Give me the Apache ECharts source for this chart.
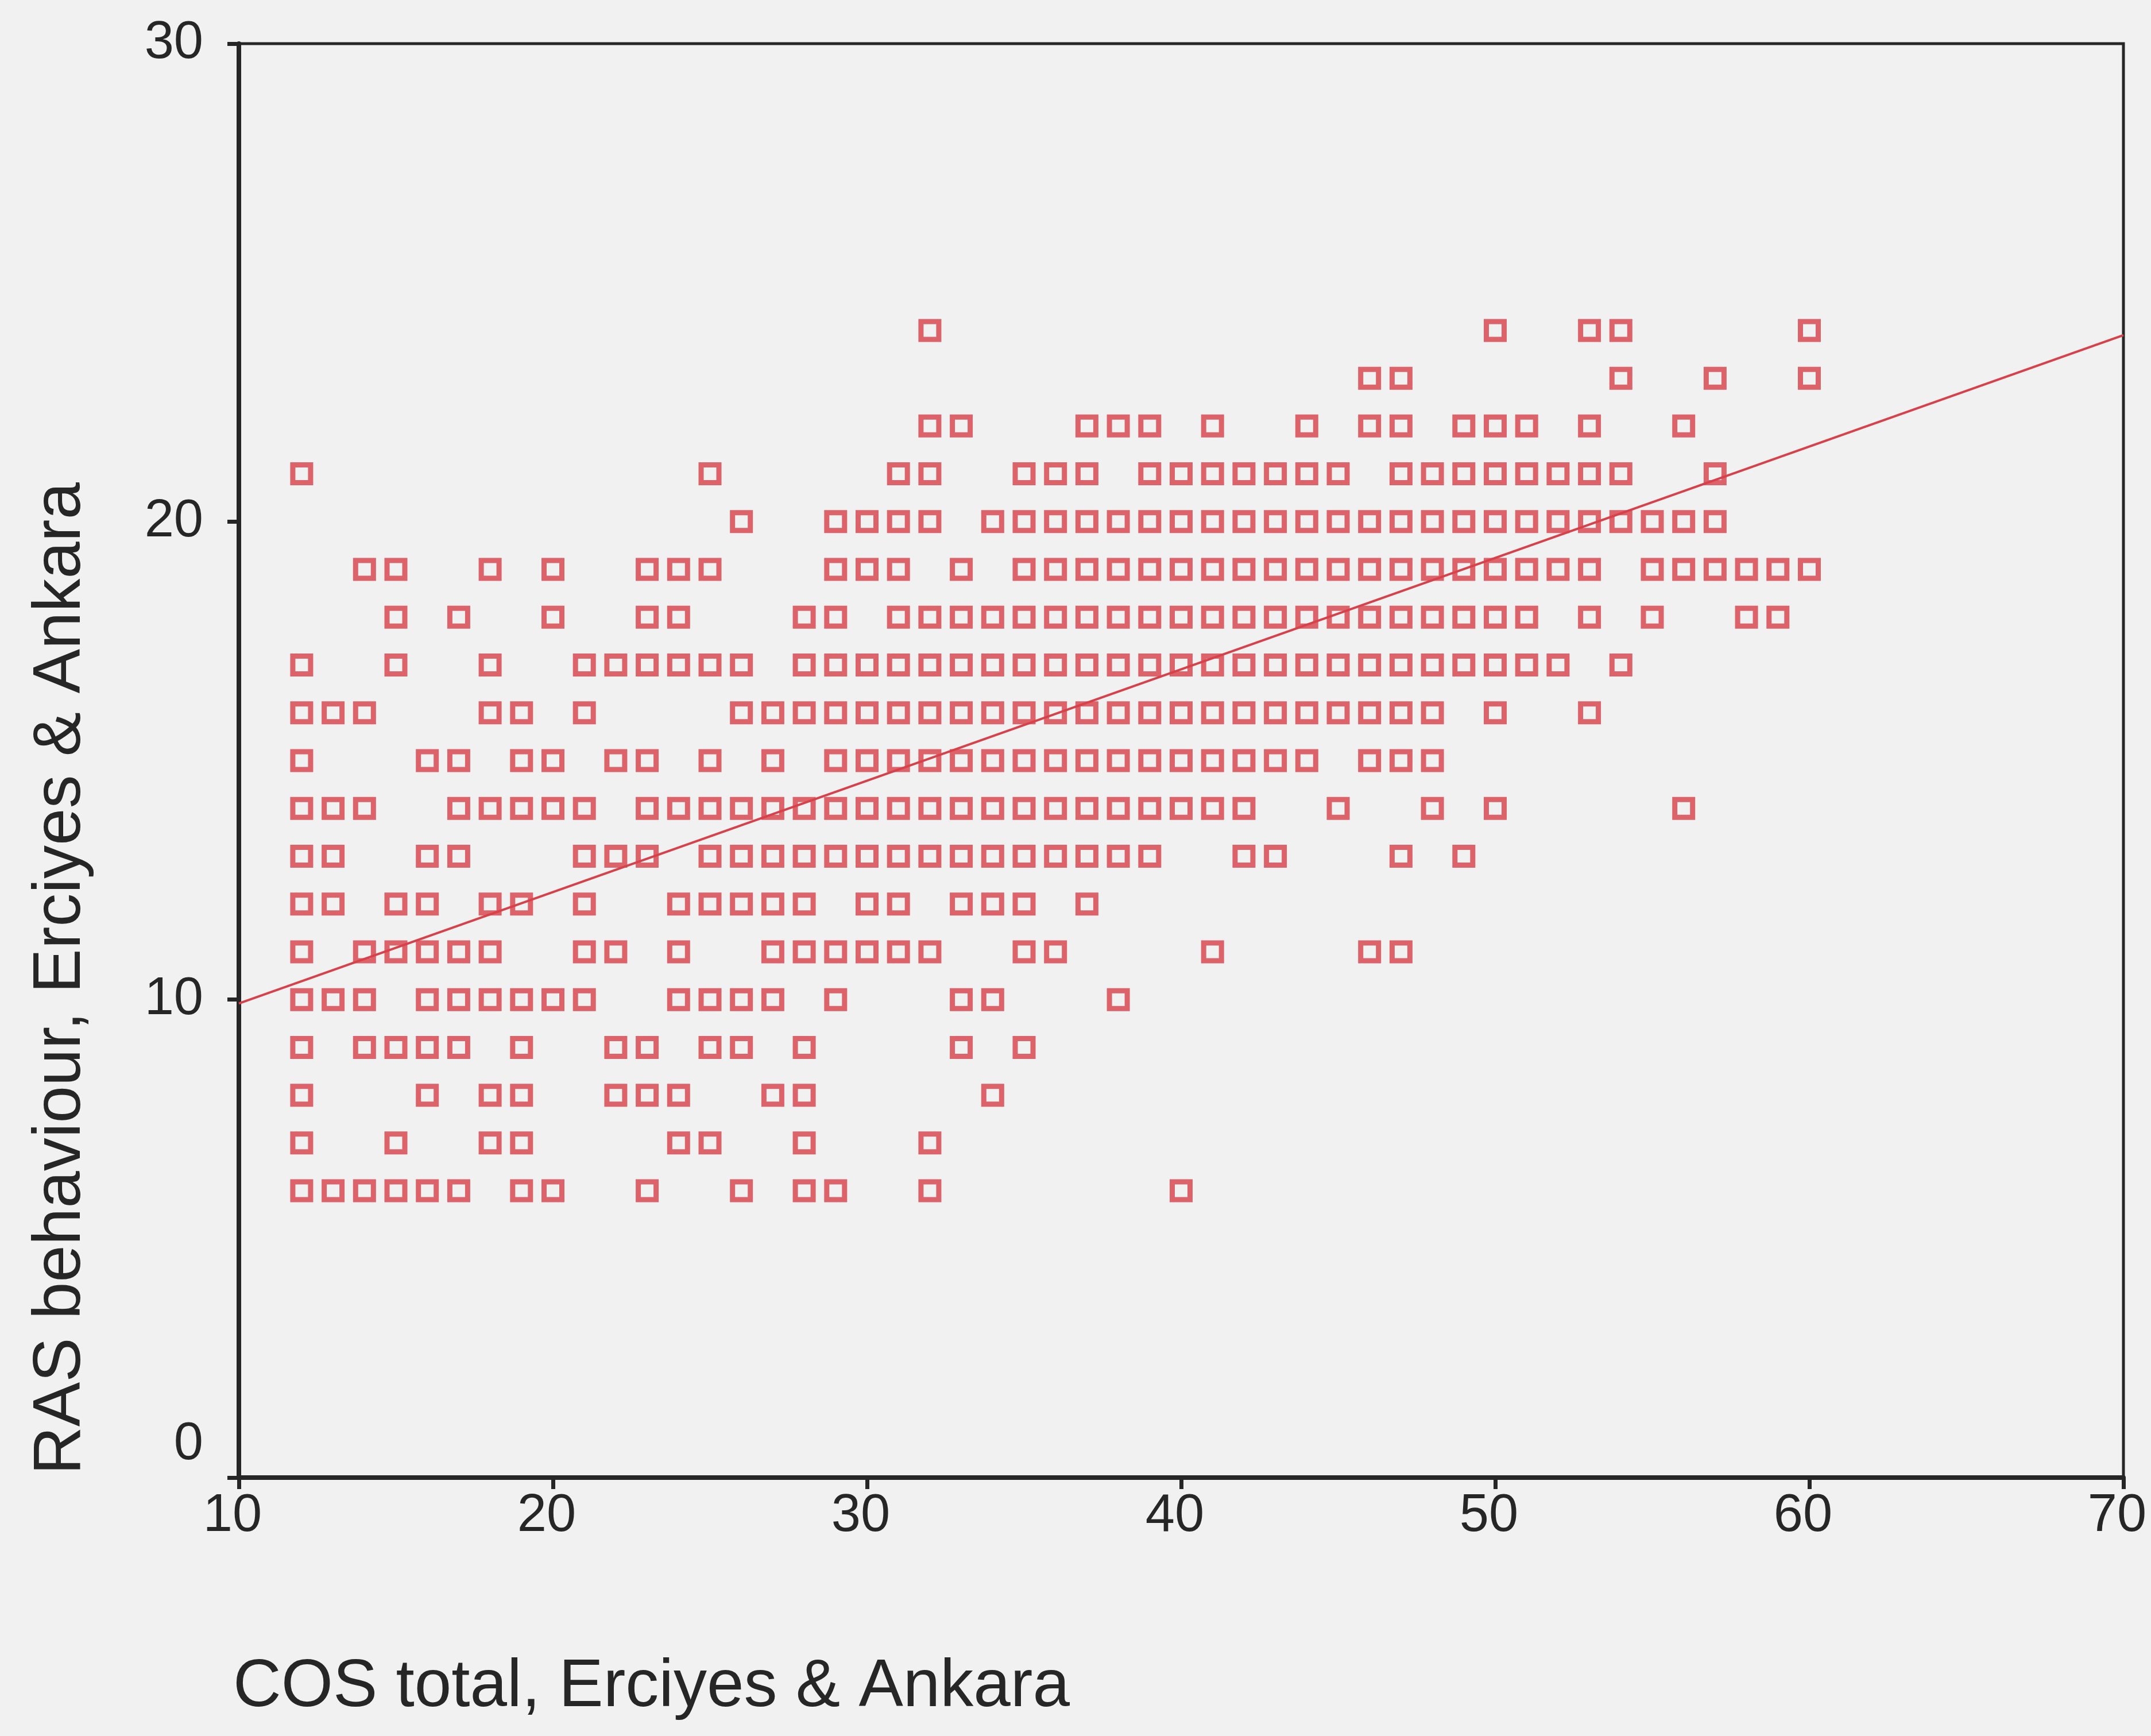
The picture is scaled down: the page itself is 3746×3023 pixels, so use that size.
<!DOCTYPE html>
<html>
<head>
<meta charset="utf-8">
<title>RAS behaviour vs COS total</title>
<script src="https://cdn.jsdelivr.net/npm/echarts@6.0.0/dist/echarts.min.js"></script>
<style>
  html, body { margin: 0; padding: 0; background: #f1f1f1; }
  #chart { width: 3746px; height: 3023px; }
</style>
</head>
<body>
<div id="chart"></div>
<script>
// COS total scores observed at each RAS behaviour score
const ras24 = [32, 50, 53, 54, 60];
const ras23 = [46, 47, 54, 57, 60];
const ras22 = [32, 33, 37, 38, 39, 41, 44, 46, 47, 49, 50, 51, 53, 56];
const ras21 = [12, 25, 31, 32, 35, 36, 37, 39, 40, 41, 42, 43, 44, 45, 47, 48, 49, 50, 51, 52, 53, 54, 57];
const ras20 = [26, 29, 30, 31, 32, 34, 35, 36, 37, 38, 39, 40, 41, 42, 43, 44, 45, 46, 47, 48, 49, 50, 51, 52, 53, 54, 55, 56, 57];
const ras19 = [14, 15, 18, 20, 23, 24, 25, 29, 30, 31, 33, 35, 36, 37, 38, 39, 40, 41, 42, 43, 44, 45, 46, 47, 48, 49, 50, 51, 52, 53, 55, 56, 57, 58, 59, 60];
const ras18 = [15, 17, 20, 23, 24, 28, 29, 31, 32, 33, 34, 35, 36, 37, 38, 39, 40, 41, 42, 43, 44, 45, 46, 47, 48, 49, 50, 51, 53, 55, 58, 59];
const ras17 = [12, 15, 18, 21, 22, 23, 24, 25, 26, 28, 29, 30, 31, 32, 33, 34, 35, 36, 37, 38, 39, 40, 41, 42, 43, 44, 45, 46, 47, 48, 49, 50, 51, 52, 54];
const ras16 = [12, 13, 14, 18, 19, 21, 26, 27, 28, 29, 30, 31, 32, 33, 34, 35, 36, 37, 38, 39, 40, 41, 42, 43, 44, 45, 46, 47, 48, 50, 53];
const ras15 = [12, 16, 17, 19, 20, 22, 23, 25, 27, 29, 30, 31, 32, 33, 34, 35, 36, 37, 38, 39, 40, 41, 42, 43, 44, 46, 47, 48];
const ras14 = [12, 13, 14, 17, 18, 19, 20, 21, 23, 24, 25, 26, 27, 28, 29, 30, 31, 32, 33, 34, 35, 36, 37, 38, 39, 40, 41, 42, 45, 48, 50, 56];
const ras13 = [12, 13, 16, 17, 21, 22, 23, 25, 26, 27, 28, 29, 30, 31, 32, 33, 34, 35, 36, 37, 38, 39, 42, 43, 47, 49];
const ras12 = [12, 13, 15, 16, 18, 19, 21, 24, 25, 26, 27, 28, 30, 31, 33, 34, 35, 37];
const ras11 = [12, 14, 15, 16, 17, 18, 21, 22, 24, 27, 28, 29, 30, 31, 32, 35, 36, 41, 46, 47];
const ras10 = [12, 13, 14, 16, 17, 18, 19, 20, 21, 24, 25, 26, 27, 29, 33, 34, 38];
const ras9  = [12, 14, 15, 16, 17, 19, 22, 23, 25, 26, 28, 33, 35];
const ras8  = [12, 16, 18, 19, 22, 23, 24, 27, 28, 34];
const ras7  = [12, 15, 18, 19, 24, 25, 28, 32];
const ras6  = [12, 13, 14, 15, 16, 17, 19, 20, 23, 26, 28, 29, 32, 40];

// Fitted linear regression line, end points at the edges of the x range
const fitLine = [[10, 9.92], [70, 23.9]];

const xTitle = 'COS total, Erciyes & Ankara';
const yTitle = 'RAS behaviour, Erciyes & Ankara';

const rasRows = [
  [24, ras24], [23, ras23], [22, ras22], [21, ras21], [20, ras20],
  [19, ras19], [18, ras18], [17, ras17], [16, ras16], [15, ras15],
  [14, ras14], [13, ras13], [12, ras12], [11, ras11], [10, ras10],
  [9, ras9], [8, ras8], [7, ras7], [6, ras6]
];
const points = [];
rasRows.forEach(([ras, cosList]) => cosList.forEach(cos => points.push([cos, ras])));

const RED = '#d8404a';
const INK = '#262626';
const FONT = '"Liberation Sans", Arial, sans-serif';

const chart = echarts.init(document.getElementById('chart'), null, { renderer: 'canvas' });
chart.setOption({
  animation: false,
  backgroundColor: '#f1f1f1',
  grid: {
    left: 416, top: 76, width: 3282, height: 2497,
    show: true, borderColor: INK, borderWidth: 5, backgroundColor: 'transparent'
  },
  xAxis: {
    type: 'value', min: 10, max: 70, interval: 10,
    axisLine: { show: true, lineStyle: { color: INK, width: 8 } },
    axisTick: { show: true, length: 20, lineStyle: { color: INK, width: 7 } },
    axisLabel: { color: INK, fontSize: 92, fontFamily: FONT, margin: 22, padding: [0, 22, 0, 0] },
    splitLine: { show: false }
  },
  yAxis: {
    type: 'value', min: 0, max: 30, interval: 10,
    axisLine: { show: true, lineStyle: { color: INK, width: 8 } },
    axisTick: { show: true, length: 20, lineStyle: { color: INK, width: 7 } },
    axisLabel: {
      color: INK, fontSize: 92, fontFamily: FONT, margin: 62,
      formatter: v => (v === 0 ? '{zero|0}' : String(v)),
      rich: { zero: { fontSize: 92, fontFamily: FONT, color: INK, padding: [0, 0, 114, 0] } }
    },
    splitLine: { show: false }
  },
  series: [
    {
      type: 'scatter',
      data: points,
      symbol: 'rect',
      symbolSize: 31,
      itemStyle: { color: 'rgba(0,0,0,0)', borderColor: RED, borderWidth: 9 },
      z: 2
    },
    {
      type: 'line',
      data: fitLine,
      symbol: 'none',
      lineStyle: { color: RED, width: 4 },
      z: 3
    }
  ],
  graphic: [
    {
      type: 'text',
      x: 406, y: 2939,
      style: { text: xTitle, fill: INK, fontSize: 116, fontFamily: FONT, textAlign: 'left', textVerticalAlign: 'middle' }
    },
    {
      type: 'text',
      x: 107, y: 2568, rotation: Math.PI / 2,
      style: { text: yTitle, fill: INK, fontSize: 116, fontFamily: FONT, textAlign: 'left', textVerticalAlign: 'middle' }
    }
  ]
});
</script>
</body>
</html>
